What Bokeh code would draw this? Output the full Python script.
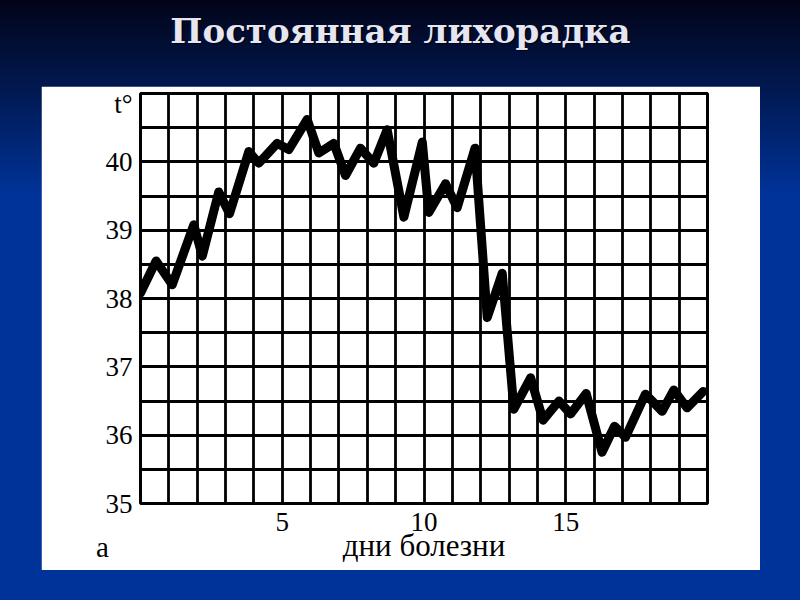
from bokeh.plotting import figure
from bokeh.models import Range1d, FixedTicker, Label, GlobalInlineStyleSheet, Spacer
from bokeh.layouts import column, row
from bokeh.embed import file_html
from bokeh.resources import INLINE

# ---- data ----
days = [0, 0.55, 1.12, 1.88, 2.18, 2.76, 3.14, 3.82, 4.17, 4.82, 5.23, 5.88, 6.29, 6.82,
        7.23, 7.76, 8.23, 8.70, 9.29, 9.94, 10.17, 10.76, 11.17, 11.80, 12.23, 12.76,
        13.17, 13.76, 14.20, 14.76, 15.17, 15.72, 16.28, 16.72, 17.11, 17.81, 18.40,
        18.81, 19.28, 19.85]
temps = [38.08, 38.55, 38.20, 39.08, 38.62, 39.56, 39.24, 40.15, 39.98, 40.27, 40.18,
         40.62, 40.13, 40.27, 39.80, 40.20, 39.98, 40.47, 39.19, 40.29, 39.26, 39.68,
         39.33, 40.20, 37.72, 38.37, 36.38, 36.84, 36.22, 36.50, 36.31, 36.61, 35.75,
         36.13, 35.97, 36.60, 36.35, 36.66, 36.40, 36.64]
x_tick_labels = [5, 10, 15]
y_tick_labels = [35, 36, 37, 38, 39, 40]
t_label_pos = 40.84
grid_days = list(range(0, 21))
grid_temps = [35 + 0.5 * i for i in range(13)]
title_text = "Постоянная лихорадка"
y_title = "t°"
x_title = "дни болезни"
panel_letter = "а"

page_css = GlobalInlineStyleSheet(css=(
    "html,body{background:linear-gradient(to bottom,#020418 0px,#011a55 95px,#003399 195px,#003399 100%) no-repeat;"
    "background-color:#003399;}"))


def bare_figure(w, h):
    f = figure(width=w, height=h, output_backend="svg", toolbar_location=None,
               x_range=Range1d(0, w), y_range=Range1d(0, h),
               min_border=0, min_border_left=0, min_border_right=0,
               min_border_top=0, min_border_bottom=0)
    f.axis.visible = False
    f.grid.visible = False
    f.outline_line_color = None
    f.background_fill_alpha = 0
    f.border_fill_alpha = 0
    return f


# ---- title strip ----
TW, TH = 800, 86
t = bare_figure(TW, TH)
t.stylesheets = [page_css]
t.add_layout(Label(x=401.5, y=TH - 31.5, text=title_text, text_align="center", text_baseline="middle",
                   text_font="DejaVu Serif", text_font_style="bold", text_font_size="34px",
                   text_color="black", text_alpha=0.75))
t.add_layout(Label(x=400, y=TH - 30, text=title_text, text_align="center", text_baseline="middle",
                   text_font="DejaVu Serif", text_font_style="bold", text_font_size="34px",
                   text_color="#e6e6f2"))

# ---- chart panel ----
CW, CH = 719, 484
FL, FR, FT, FB = 99, 666, 7, 417
p = figure(width=CW, height=CH, output_backend="svg", toolbar_location=None,
           x_range=Range1d(0, 20), y_range=Range1d(35, 41),
           min_border_left=FL, min_border_right=CW - FR,
           min_border_top=FT, min_border_bottom=CH - FB)
p.border_fill_color = "white"
p.background_fill_color = "white"
p.outline_line_color = "black"
p.outline_line_width = 3

p.xgrid.ticker = FixedTicker(ticks=grid_days)
p.ygrid.ticker = FixedTicker(ticks=grid_temps)
for g in (p.xgrid, p.ygrid):
    g.grid_line_color = "black"
    g.grid_line_width = 2.8
    g.grid_line_alpha = 1

for ax in (p.xaxis, p.yaxis):
    ax.axis_line_color = None
    ax.major_tick_line_color = None
    ax.minor_tick_line_color = None
    ax.major_tick_out = 0
    ax.major_tick_in = 0
    ax.major_label_text_font = "Liberation Serif"
    ax.major_label_text_font_size = "27px"
    ax.major_label_text_color = "black"
p.xaxis.ticker = FixedTicker(ticks=x_tick_labels)
p.yaxis.ticker = FixedTicker(ticks=y_tick_labels + [t_label_pos])
p.yaxis.major_label_overrides = {t_label_pos: y_title}
p.xaxis.major_label_standoff = 9
p.yaxis.major_label_standoff = 8
p.xaxis.axis_label = x_title
p.xaxis.axis_label_text_font = "Liberation Serif"
p.xaxis.axis_label_text_font_style = "normal"
p.xaxis.axis_label_text_font_size = "31px"
p.xaxis.axis_label_text_color = "black"
p.xaxis.axis_label_standoff = -6

p.line(days, temps, line_color="black", line_width=9, line_join="round", line_cap="round")

# ---- panel letter, placed over the panel's lower-left corner ----
a = bare_figure(30, 30)
a.add_layout(Label(x=15, y=15, text=panel_letter, text_align="center", text_baseline="middle",
                   text_font="Liberation Serif", text_font_size="29px", text_color="black"))
a.styles = {"position": "absolute", "left": "87px", "top": "531px"}

layout = column(t, row(Spacer(width=41, height=CH), p, spacing=0), a, spacing=0)
layout.stylesheets = [page_css]

open("out.html", "w").write(file_html(layout, INLINE))
